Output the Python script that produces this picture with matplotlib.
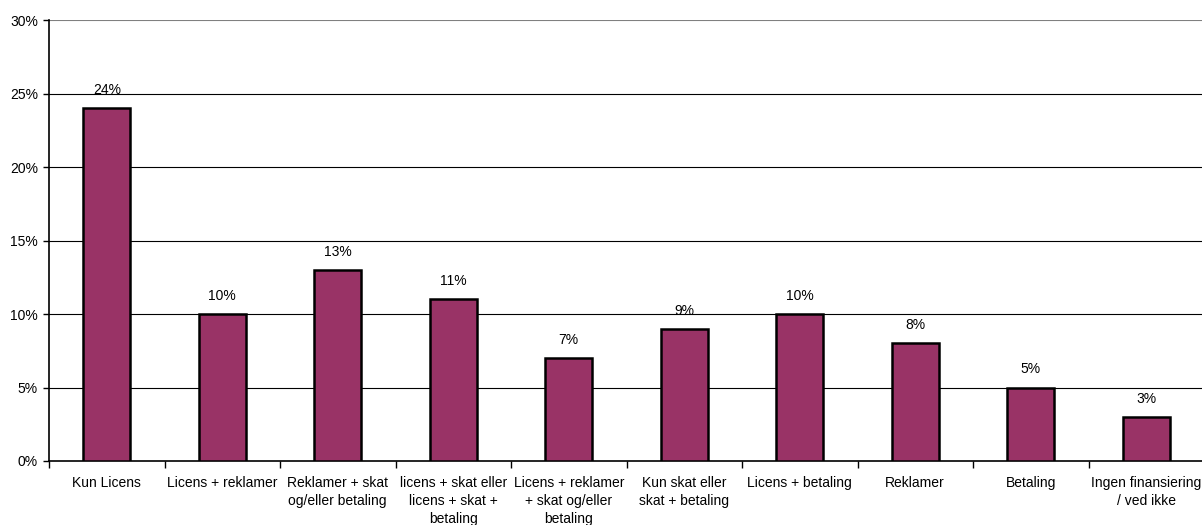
import numpy as np
import matplotlib.pyplot as plt

plt.rcParams['font.family'] = ['Liberation Sans', 'DejaVu Sans']

kategorier = ["Kun Licens", "Licens + reklamer", "Reklamer + skat\nog/eller betaling",
              "licens + skat eller\nlicens + skat +\nbetaling",
              "Licens + reklamer\n+ skat og/eller\nbetaling",
              "Kun skat eller\nskat + betaling", "Licens + betaling", "Reklamer",
              "Betaling", "Ingen finansiering\n/ ved ikke"]
andele = [24, 10, 13, 11, 7, 9, 10, 8, 5, 3]
y_ticks = [0, 5, 10, 15, 20, 25, 30]

fig = plt.figure(figsize=(12.02, 5.25), dpi=100)
ax = fig.add_axes([49 / 1202, 64 / 525, 1155 / 1202, 441 / 525])

x = np.arange(len(andele))
ax.bar(x, andele, width=0.41, color='#993366', edgecolor='black', linewidth=1.8, zorder=3)

# procentetiket over hver søjle
for xi, v in zip(x, andele):
    ax.annotate(f"{v}%", (xi, v), xytext=(0, 8), textcoords='offset points',
                ha='center', va='bottom', fontsize=10)

ax.set_xlim(-0.5, len(andele) - 0.5)
ax.set_ylim(0, 30)
ax.set_yticks(y_ticks)
ax.set_yticklabels([f"{t}%" for t in y_ticks], fontsize=10)
for t in y_ticks[1:]:
    ax.axhline(t, color='black' if t < 30 else '#808080', linewidth=0.8, zorder=1)

ax.set_xticks(np.arange(len(andele) + 1) - 0.5)
ax.set_xticklabels([])
ax.set_xticks(x, minor=True)
ax.set_xticklabels(kategorier, minor=True, fontsize=10, linespacing=1.35, va='top')
ax.tick_params(axis='x', which='minor', length=0, pad=11)
ax.tick_params(axis='x', which='major', length=5, width=1, direction='out', color='black')
ax.tick_params(axis='y', length=4, width=1, direction='out', pad=4)

for s in ['top', 'right']:
    ax.spines[s].set_visible(False)
ax.spines['left'].set_linewidth(1.2)
ax.spines['bottom'].set_linewidth(1.2)

fig.savefig('out.png', dpi=100)
